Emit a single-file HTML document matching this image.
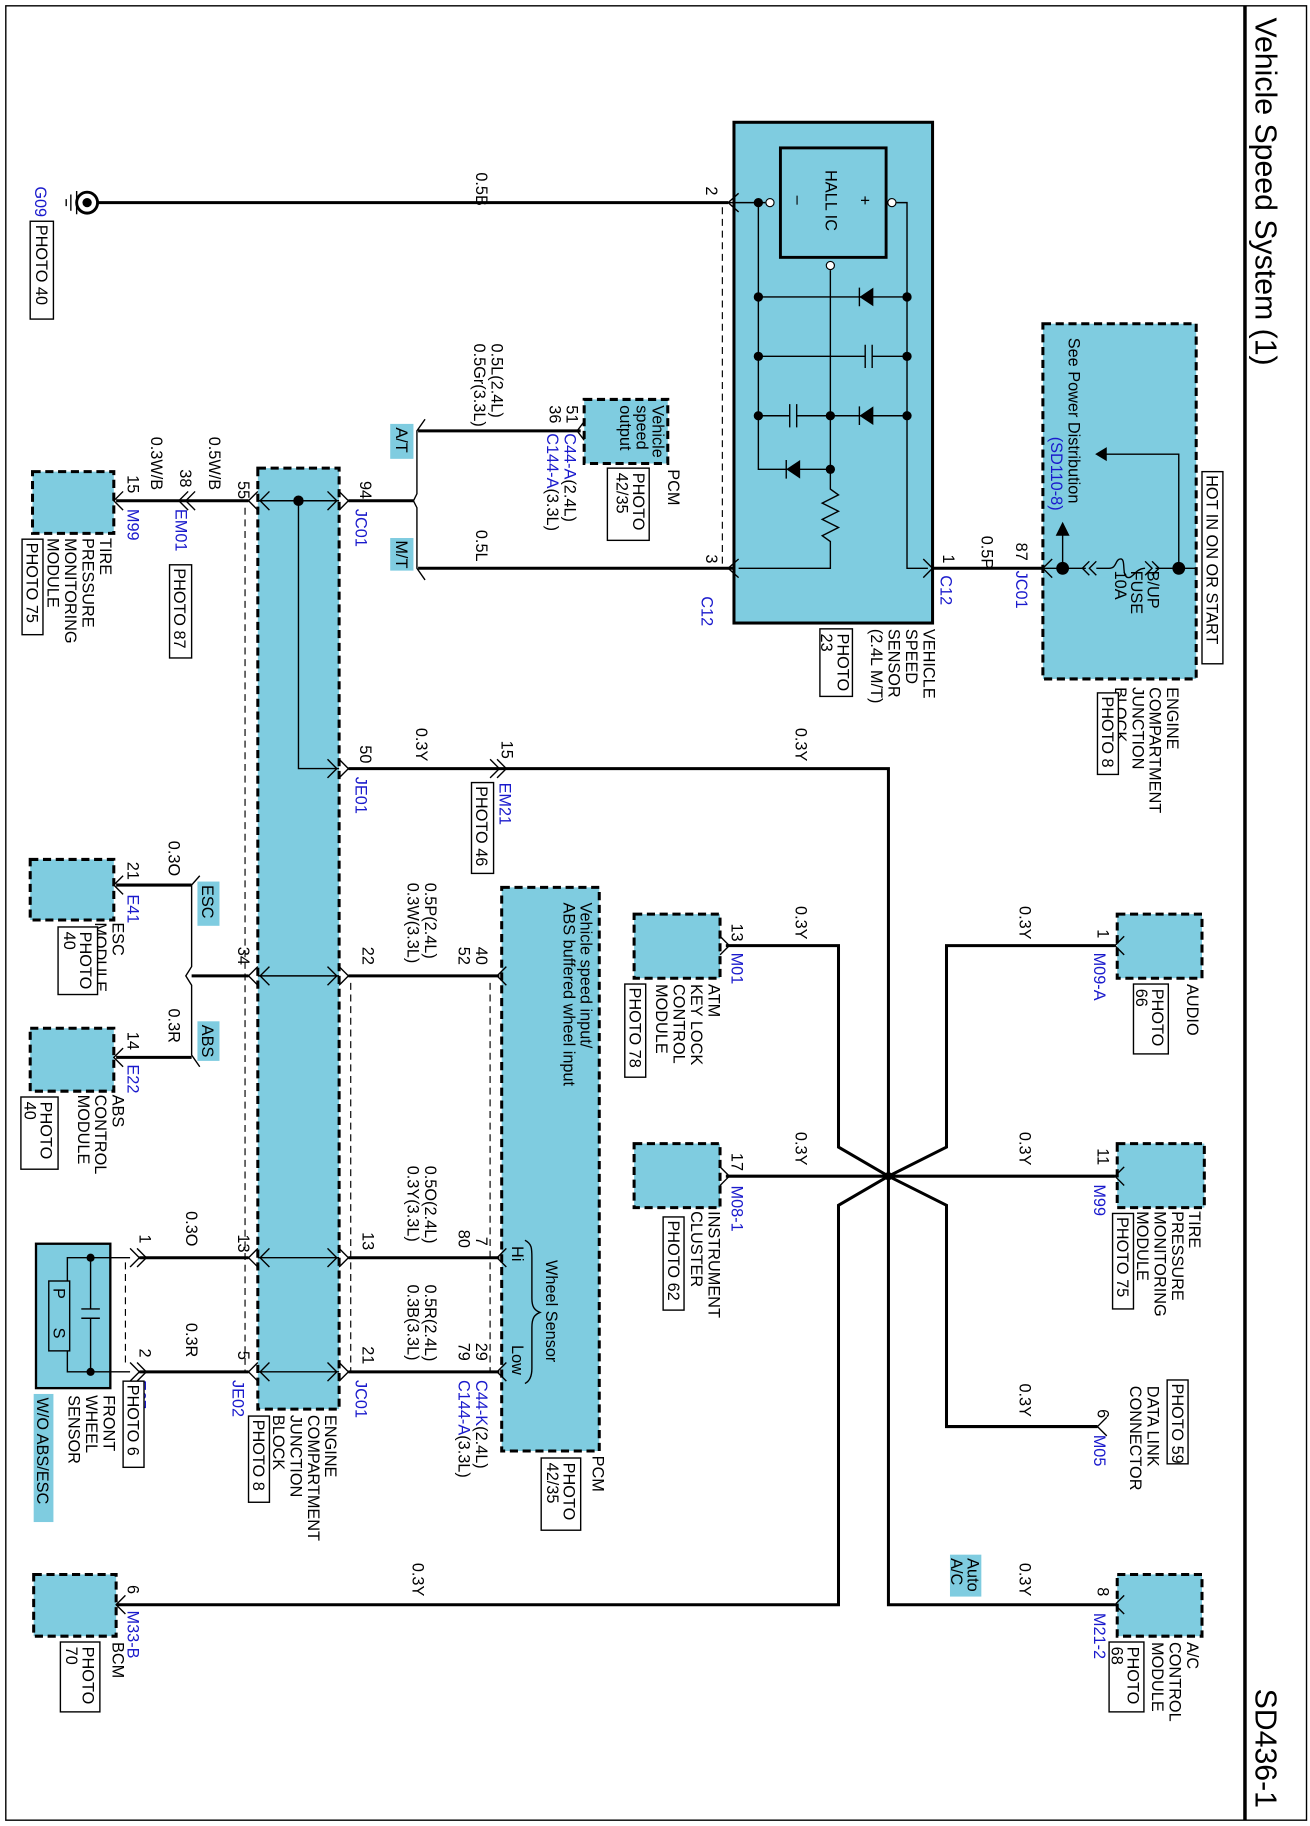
<!DOCTYPE html>
<html><head><meta charset="utf-8"><style>
html,body{margin:0;padding:0;background:#fff}
svg{display:block}
text{font-family:"Liberation Sans",sans-serif;font-size:14px;fill:#000}
.b{fill:#1a1acc}
.w{stroke:#000;stroke-width:2.6;fill:none}
.t{stroke:#000;stroke-width:1.2;fill:none}
.d{stroke:#000;stroke-width:1;fill:none;stroke-dasharray:6 4}
.m{fill:#7fcce0;stroke:#000;stroke-width:2.6;stroke-dasharray:7 4}
.lb{fill:#7fcce0}
.pb{fill:#fff;stroke:#000;stroke-width:1.2}
</style></head><body>
<svg width="1310" height="1826" viewBox="0 0 1128 1568" preserveAspectRatio="none" xmlns="http://www.w3.org/2000/svg">
<rect x="5" y="5" width="1120" height="1558" fill="none" stroke="#000" stroke-width="1.2"/>
<line x1="1072" y1="5" x2="1072" y2="1563" stroke="#000" stroke-width="3"/>
<text transform="translate(1081,15) rotate(90)" style="font-size:26px">Vehicle Speed System (1)</text>
<text transform="translate(1081,1450) rotate(90)" style="font-size:26px">SD436-1</text>

<!-- ground -->
<circle cx="75" cy="174" r="9" fill="#fff" stroke="#000" stroke-width="2.5"/><circle cx="75" cy="174" r="4"/>
<path class="t" d="M66 164V184M61 167V181M57 171V177" stroke-width="1.5"/>
<line class="w" x1="84" y1="174" x2="627" y2="174"/>
<text class="b" transform="translate(30,160) rotate(90)">G09</text>
<rect class="pb" x="26" y="190" width="20" height="84"/><text transform="translate(31,193) rotate(90)">PHOTO 40</text>
<text transform="translate(410,148) rotate(90)">0.5B</text>

<!-- vehicle speed sensor -->
<rect x="632" y="105" width="171" height="430" fill="#7fcce0" stroke="#000" stroke-width="2.6"/>
<rect x="672" y="127" width="91" height="94" fill="#7fcce0" stroke="#000" stroke-width="2.5"/>
<text transform="translate(711,146) rotate(90)">HALL IC</text>
<text transform="translate(740,168) rotate(90)">+</text><text transform="translate(683,168) rotate(90)">–</text>
<path class="t" d="M625 174H659M653 174V403H715M715 232V420L722 425L708 432L722 439L708 446L722 453L708 460L715 465V488H636M772 174H781V488H799M653 255H781M653 306H781M653 357H781"/>
<circle cx="768" cy="174" r="3.5" fill="#fff" stroke="#000"/><circle cx="663" cy="174" r="3.5" fill="#fff" stroke="#000"/><circle cx="715" cy="228" r="3.5" fill="#fff" stroke="#000"/>
<g fill="#000"><circle cx="653" cy="174" r="4"/><circle cx="653" cy="255" r="4"/><circle cx="781" cy="255" r="4"/><circle cx="653" cy="306" r="4"/><circle cx="781" cy="306" r="4"/><circle cx="653" cy="357" r="4"/><circle cx="715" cy="357" r="4"/><circle cx="781" cy="357" r="4"/><circle cx="715" cy="403" r="4"/>
<path d="M752 247V263L740 255Z"/><path d="M752 349V365L740 357Z"/><path d="M689 395V411L677 403Z"/></g>
<path class="t" d="M740 247V263M677 395V411M740 349V365" stroke-width="2"/>
<rect x="745" y="296" width="6" height="20" fill="#7fcce0"/><path class="t" d="M745 296V316M751 296V316"/>
<rect x="680" y="347" width="6" height="20" fill="#7fcce0"/><path class="t" d="M680 347V367M686 347V367"/>
<path class="t" d="M636 166L627 174L636 182M636 480L627 488L636 496M795 480L803 488L795 496"/>
<path class="d" d="M622 178V484"/>
<text transform="translate(608,160) rotate(90)">2</text><text transform="translate(608,476) rotate(90)">3</text>
<text class="b" transform="translate(604,512) rotate(90)">C12</text>
<text transform="translate(812,476) rotate(90)">1</text><text class="b" transform="translate(810,494) rotate(90)">C12</text>
<line class="w" x1="803" y1="488" x2="898" y2="488"/>
<text transform="translate(845,460) rotate(90)">0.5P</text>
<text transform="translate(875,466) rotate(90)">87</text><text class="b" transform="translate(875,490) rotate(90)">JC01</text>
<text transform="translate(795,540) rotate(90)">VEHICLE<tspan x="0" dy="15">SPEED</tspan><tspan x="0" dy="15">SENSOR</tspan><tspan x="0" dy="15">(2.4L M/T)</tspan></text>
<rect class="pb" x="706" y="540" width="28" height="58"/><text transform="translate(721,544) rotate(90)">PHOTO<tspan x="0" dy="14">23</tspan></text>

<!-- top junction block -->
<rect class="m" x="898" y="278" width="132" height="305"/>
<rect class="pb" x="1035" y="405" width="18" height="165"/><text transform="translate(1039,408) rotate(90)">HOT IN ON OR START</text>
<text transform="translate(920,290) rotate(90)">See Power Distribution</text>
<text class="b" transform="translate(905,375) rotate(90)">(SD110-8)</text>
<path class="t" d="M898 488H1030M1015 488V390H950M915 488V458" stroke-width="1.5"/>
<path d="M943 390L953 384V396Z M915 448L909 460H921Z"/>
<circle cx="915" cy="488" r="5.5"/><circle cx="1015" cy="488" r="5.5"/>
<rect x="935" y="480" width="60" height="16" fill="#7fcce0"/>
<path class="t" d="M906 480L898 488L906 496M938 482L932 488L938 494M944 482L938 488L944 494M992 482L998 488L992 494M986 482L992 488L986 494M944 488H955C962 488 960 480 965 480C970 480 965 496 972 496C976 496 978 488 986 488"/>
<text transform="translate(988,490) rotate(90)">B/UP<tspan x="0" dy="14">FUSE</tspan><tspan x="0" dy="14">10A</tspan></text>
<text transform="translate(1005,590) rotate(90)">ENGINE<tspan x="0" dy="15">COMPARTMENT</tspan><tspan x="0" dy="15">JUNCTION</tspan><tspan x="0" dy="15">BLOCK</tspan></text>
<rect class="pb" x="945" y="595" width="18" height="70"/><text transform="translate(949,598) rotate(90)">PHOTO 8</text>

<!-- PCM vehicle speed output -->
<rect class="m" x="503" y="343" width="72" height="55"/>
<text transform="translate(562,348) rotate(90)">Vehicle<tspan x="0" dy="14">speed</tspan><tspan x="0" dy="14">output</tspan></text>
<text transform="translate(575,403) rotate(90)">PCM</text>
<rect class="pb" x="523" y="402" width="36" height="62"/><text transform="translate(545,406) rotate(90)">PHOTO<tspan x="0" dy="14">42/35</tspan></text>
<path class="w" d="M500 370H360"/><path class="t" d="M503 362L497 370L503 378"/>
<text transform="translate(488,348) rotate(90)">51</text><text transform="translate(473,348) rotate(90)">36</text>
<text transform="translate(486,372) rotate(90)"><tspan class="b">C44-A</tspan>(2.4L)</text>
<text transform="translate(471,372) rotate(90)"><tspan class="b">C144-A</tspan>(3.3L)</text>
<text transform="translate(423,295) rotate(90)">0.5L(2.4L)</text><text transform="translate(408,295) rotate(90)">0.5Gr(3.3L)</text>
<rect class="lb" x="336" y="364" width="20" height="30"/><text transform="translate(341,367) rotate(90)">A/T</text>
<rect class="lb" x="336" y="462" width="20" height="28"/><text transform="translate(341,464) rotate(90)">M/T</text>
<path class="w" d="M632 488H360"/>
<path class="t" d="M366 360L359 370V424L356 430M356 430L359 436V488L366 498" stroke-width="1.3"/>
<path class="w" d="M300 430H356"/>
<text transform="translate(410,455) rotate(90)">0.5L</text>

<!-- main junction block -->
<rect class="m" x="222" y="402" width="70" height="808"/>
<path class="d" d="M211 436V1178M302 844V1178M108 1084V1174M422 844V1178"/>
<path class="t" d="M222 430H292M257 430V660H292M222 838H292M222 1080H292M222 1178H292"/>
<circle cx="257" cy="430" r="4.5"/>
<path class="t" d="M232 422L224 430L232 438M282 422L290 430L282 438M282 652L290 660L282 668M232 830L224 838L232 846M282 830L290 838L282 846M232 1072L224 1080L232 1088M282 1072L290 1080L282 1088M232 1170L224 1178L232 1186M282 1170L290 1178L282 1186"/>
<path class="t" d="M292 422L300 430L292 438M292 652L300 660L292 668M292 830L300 838L292 846M292 1072L300 1080L292 1088M292 1170L300 1178L292 1186M222 422L214 430L222 438M222 830L214 838L222 846M222 1072L214 1080L222 1088M222 1170L214 1178L222 1186" stroke-width="1.5"/>
<path class="w" d="M214 430H100M300 660H430H765V1378H960M300 838H430M300 1080H430M300 1178H430M214 838H165M214 1080H120M214 1178H120"/>
<text transform="translate(205,413) rotate(90)">55</text><text transform="translate(310,413) rotate(90)">94</text><text class="b" transform="translate(306,437) rotate(90)">JC01</text>
<text transform="translate(180,375) rotate(90)">0.5W/B</text>
<path class="t" d="M162 422L154 430L162 438M168 422L160 430L168 438"/>
<text transform="translate(155,403) rotate(90)">38</text><text class="b" transform="translate(151,437) rotate(90)">EM01</text>
<rect class="pb" x="146" y="485" width="19" height="80"/><text transform="translate(150,488) rotate(90)">PHOTO 87</text>
<text transform="translate(130,375) rotate(90)">0.3W/B</text>
<text transform="translate(110,408) rotate(90)">15</text><text class="b" transform="translate(110,437) rotate(90)">M99</text>
<rect class="m" x="28" y="405" width="70" height="53"/><path class="t" d="M106 422L98 430L106 438"/>
<text transform="translate(86,462) rotate(90)">TIRE<tspan x="0" dy="15">PRESSURE</tspan><tspan x="0" dy="15">MONITORING</tspan><tspan x="0" dy="15">MODULE</tspan></text>
<rect class="pb" x="19" y="463" width="18" height="82"/><text transform="translate(23,466) rotate(90)">PHOTO 75</text>

<text transform="translate(310,640) rotate(90)">50</text><text class="b" transform="translate(306,667) rotate(90)">JE01</text>
<text transform="translate(358,625) rotate(90)">0.3Y</text>
<path class="t" d="M422 652L430 660L422 668M428 652L436 660L428 668"/>
<text transform="translate(432,636) rotate(90)">15</text><text class="b" transform="translate(430,672) rotate(90)">EM21</text>
<rect class="pb" x="406" y="672" width="19" height="78"/><text transform="translate(410,675) rotate(90)">PHOTO 46</text>
<text transform="translate(685,625) rotate(90)">0.3Y</text>

<!-- star -->
<path class="w" d="M625 812H722V985L765 1010L815 985V812H960M625 1010H960M765 1010L722 1035V1378H100M765 1010L815 1035V1225H945"/>
<circle cx="765" cy="1010" r="3.5"/>
<rect class="m" x="962" y="785" width="73" height="55"/><path class="t" d="M968 804L960 812L968 820"/>
<text transform="translate(945,798) rotate(90)">1</text><text class="b" transform="translate(942,818) rotate(90)">M09-A</text>
<text transform="translate(878,778) rotate(90)">0.3Y</text>
<text transform="translate(1022,845) rotate(90)">AUDIO</text>
<rect class="pb" x="976" y="845" width="30" height="60"/><text transform="translate(992,849) rotate(90)">PHOTO<tspan x="0" dy="14">66</tspan></text>

<rect class="m" x="962" y="982" width="75" height="55"/><path class="t" d="M968 1002L960 1010L968 1018"/>
<text transform="translate(945,986) rotate(90)">11</text><text class="b" transform="translate(942,1017) rotate(90)">M99</text>
<text transform="translate(878,972) rotate(90)">0.3Y</text>
<text transform="translate(1024,1040) rotate(90)">TIRE<tspan x="0" dy="15">PRESSURE</tspan><tspan x="0" dy="15">MONITORING</tspan><tspan x="0" dy="15">MODULE</tspan></text>
<rect class="pb" x="958" y="1042" width="18" height="82"/><text transform="translate(962,1045) rotate(90)">PHOTO 75</text>

<path class="t" d="M953 1217L945 1225L953 1233"/>
<text transform="translate(945,1210) rotate(90)">6</text><text class="b" transform="translate(942,1232) rotate(90)">M05</text>
<text transform="translate(878,1188) rotate(90)">0.3Y</text>
<rect class="pb" x="1005" y="1185" width="18" height="72"/><text transform="translate(1009,1188) rotate(90)">PHOTO 59</text>
<text transform="translate(988,1190) rotate(90)">DATA LINK<tspan x="0" dy="15">CONNECTOR</tspan></text>

<rect class="m" x="962" y="1352" width="73" height="53"/><path class="t" d="M968 1370L960 1378L968 1386"/>
<text transform="translate(945,1363) rotate(90)">8</text><text class="b" transform="translate(942,1385) rotate(90)">M21-2</text>
<text transform="translate(878,1342) rotate(90)">0.3Y</text>
<rect class="lb" x="818" y="1335" width="27" height="36"/><text transform="translate(833,1338) rotate(90)">Auto<tspan x="0" dy="14">A/C</tspan></text>
<text transform="translate(1022,1410) rotate(90)">A/C<tspan x="0" dy="15">CONTROL</tspan><tspan x="0" dy="15">MODULE</tspan></text>
<rect class="pb" x="955" y="1410" width="30" height="60"/><text transform="translate(971,1414) rotate(90)">PHOTO<tspan x="0" dy="14">68</tspan></text>

<rect class="m" x="546" y="785" width="74" height="55"/><path class="t" d="M620 804L628 812L620 820"/>
<text transform="translate(630,793) rotate(90)">13</text><text class="b" transform="translate(630,818) rotate(90)">M01</text>
<text transform="translate(685,778) rotate(90)">0.3Y</text>
<text transform="translate(610,845) rotate(90)">ATM<tspan x="0" dy="15">KEY LOCK</tspan><tspan x="0" dy="15">CONTROL</tspan><tspan x="0" dy="15">MODULE</tspan></text>
<rect class="pb" x="538" y="845" width="18" height="80"/><text transform="translate(542,848) rotate(90)">PHOTO 78</text>

<rect class="m" x="546" y="982" width="74" height="55"/><path class="t" d="M620 1002L628 1010L620 1018"/>
<text transform="translate(630,990) rotate(90)">17</text><text class="b" transform="translate(630,1018) rotate(90)">M08-1</text>
<text transform="translate(685,972) rotate(90)">0.3Y</text>
<text transform="translate(610,1040) rotate(90)">INSTRUMENT<tspan x="0" dy="15">CLUSTER</tspan></text>
<rect class="pb" x="571" y="1045" width="18" height="80"/><text transform="translate(575,1048) rotate(90)">PHOTO 62</text>

<!-- PCM big -->
<rect class="m" x="432" y="762" width="84" height="484"/>
<text transform="translate(500,775) rotate(90)">Vehicle speed input/<tspan x="0" dy="15">ABS buffered wheel input</tspan></text>
<text transform="translate(470,1082) rotate(90)">Wheel Sensor</text>
<path class="t" d="M452 1065C458 1068 458 1072 458 1080V1115C458 1122 460 1125 465 1127C460 1129 458 1132 458 1140V1175C458 1182 456 1186 452 1188"/>
<text transform="translate(441,1070) rotate(90)">Hi</text><text transform="translate(441,1155) rotate(90)">Low</text>
<text transform="translate(510,1250) rotate(90)">PCM</text>
<rect class="pb" x="466" y="1252" width="34" height="62"/><text transform="translate(485,1256) rotate(90)">PHOTO<tspan x="0" dy="14">42/35</tspan></text>
<path class="t" d="M436 830L428 838L436 846M436 1072L428 1080L436 1088M436 1170L428 1178L436 1186"/>
<text transform="translate(410,813) rotate(90)">40</text><text transform="translate(395,813) rotate(90)">52</text>
<text transform="translate(366,758) rotate(90)">0.5P(2.4L)</text><text transform="translate(351,758) rotate(90)">0.3W(3.3L)</text>
<text transform="translate(312,813) rotate(90)">22</text>
<text transform="translate(410,1062) rotate(90)">7</text><text transform="translate(395,1056) rotate(90)">80</text>
<text transform="translate(366,1001) rotate(90)">0.5O(2.4L)</text><text transform="translate(351,1001) rotate(90)">0.3Y(3.3L)</text>
<text transform="translate(312,1058) rotate(90)">13</text>
<text transform="translate(410,1153) rotate(90)">29</text><text transform="translate(395,1153) rotate(90)">79</text>
<text transform="translate(366,1103) rotate(90)">0.5R(2.4L)</text><text transform="translate(351,1103) rotate(90)">0.3B(3.3L)</text>
<text transform="translate(312,1156) rotate(90)">21</text><text class="b" transform="translate(306,1185) rotate(90)">JC01</text>
<text transform="translate(410,1185) rotate(90)"><tspan class="b">C44-K</tspan>(2.4L)</text>
<text transform="translate(395,1185) rotate(90)"><tspan class="b">C144-A</tspan>(3.3L)</text>
<text transform="translate(280,1215) rotate(90)">ENGINE<tspan x="0" dy="15">COMPARTMENT</tspan><tspan x="0" dy="15">JUNCTION</tspan><tspan x="0" dy="15">BLOCK</tspan></text>
<rect class="pb" x="214" y="1216" width="18" height="74"/><text transform="translate(218,1219) rotate(90)">PHOTO 8</text>

<!-- ESC / ABS -->
<text transform="translate(205,813) rotate(90)">34</text>
<path class="t" d="M172 752L165 760V830L160 838L165 846V906L172 916" stroke-width="1.4"/>
<path class="w" d="M165 760H100M165 908H100"/>
<rect class="lb" x="170" y="757" width="19" height="38"/><text transform="translate(174,760) rotate(90)">ESC</text>
<rect class="lb" x="170" y="877" width="19" height="34"/><text transform="translate(174,880) rotate(90)">ABS</text>
<text transform="translate(145,722) rotate(90)">0.3O</text><text transform="translate(145,866) rotate(90)">0.3R</text>
<rect class="m" x="26" y="738" width="72" height="52"/><path class="t" d="M106 752L98 760L106 768"/>
<text transform="translate(110,740) rotate(90)">21</text><text class="b" transform="translate(110,768) rotate(90)">E41</text>
<text transform="translate(97,792) rotate(90)">ESC<tspan x="0" dy="15">MODULE</tspan></text>
<rect class="pb" x="50" y="796" width="34" height="58"/><text transform="translate(69,800) rotate(90)">PHOTO<tspan x="0" dy="14">40</tspan></text>
<rect class="m" x="26" y="883" width="72" height="54"/><path class="t" d="M106 900L98 908L106 916"/>
<text transform="translate(110,886) rotate(90)">14</text><text class="b" transform="translate(110,914) rotate(90)">E22</text>
<text transform="translate(97,940) rotate(90)">ABS<tspan x="0" dy="15">CONTROL</tspan><tspan x="0" dy="15">MODULE</tspan></text>
<rect class="pb" x="18" y="942" width="32" height="62"/><text transform="translate(35,946) rotate(90)">PHOTO<tspan x="0" dy="14">40</tspan></text>

<!-- front wheel sensor -->
<text transform="translate(205,1060) rotate(90)">13</text><text transform="translate(205,1160) rotate(90)">5</text>
<text class="b" transform="translate(200,1185) rotate(90)">JE02</text>
<text transform="translate(160,1040) rotate(90)">0.3O</text><text transform="translate(160,1136) rotate(90)">0.3R</text>
<text transform="translate(120,1060) rotate(90)">1</text><text transform="translate(120,1158) rotate(90)">2</text>
<path class="t" d="M112 1072L120 1080L112 1088M118 1072L126 1080L118 1088M112 1170L120 1178L112 1186M118 1170L126 1178L118 1186"/>
<text class="b" transform="translate(116,1185) rotate(90)">E67</text>
<rect class="pb" x="106" y="1186" width="18" height="74"/><text transform="translate(110,1189) rotate(90)">PHOTO 6</text>
<rect x="31" y="1068" width="64" height="124" fill="#7fcce0" stroke="#000" stroke-width="2"/>
<path class="t" d="M112 1080H58V1100M58 1160V1178H112M78 1080V1124M78 1132V1178M70 1124H86M70 1132H86"/>
<circle cx="78" cy="1080" r="3.5"/><circle cx="78" cy="1178" r="3.5"/>
<rect x="42" y="1100" width="18" height="60" fill="#7fcce0" stroke="#000" stroke-width="1.2"/>
<text transform="translate(46,1106) rotate(90)">P</text><text transform="translate(46,1140) rotate(90)">S</text>
<text transform="translate(89,1198) rotate(90)">FRONT<tspan x="0" dy="15">WHEEL</tspan><tspan x="0" dy="15">SENSOR</tspan></text>
<rect class="lb" x="29" y="1197" width="17" height="110"/><text transform="translate(32,1200) rotate(90)">W/O ABS/ESC</text>

<!-- BCM -->
<rect class="m" x="29" y="1352" width="71" height="53"/><path class="t" d="M108 1370L100 1378L108 1386"/>
<text transform="translate(110,1361) rotate(90)">6</text><text class="b" transform="translate(110,1383) rotate(90)">M33-B</text>
<text transform="translate(355,1342) rotate(90)">0.3Y</text>
<text transform="translate(97,1410) rotate(90)">BCM</text>
<rect class="pb" x="52" y="1410" width="34" height="60"/><text transform="translate(71,1414) rotate(90)">PHOTO<tspan x="0" dy="14">70</tspan></text>
</svg>
</body></html>
